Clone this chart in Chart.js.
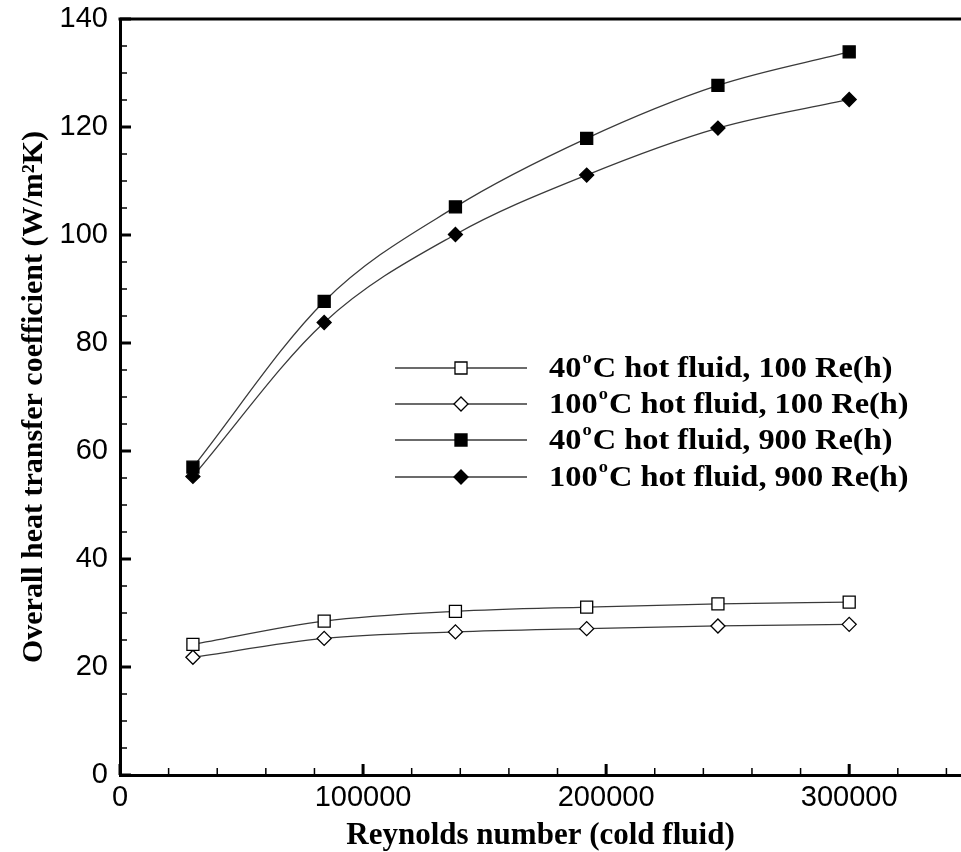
<!DOCTYPE html>
<html>
<head>
<meta charset="utf-8">
<script src="https://cdn.jsdelivr.net/npm/chart.js@4.4.0/dist/chart.umd.min.js"></script>
<style>
  html, body { margin: 0; padding: 0; background: #fff; }
  canvas { display: block; }
</style>
</head>
<body>
<canvas id="chart" width="961" height="852"></canvas>
<script>
// Reynolds number of cold fluid
const reCold = [30000, 84000, 138000, 192000, 246000, 300000];

// Overall heat transfer coefficient (W/m2K)
const hot40Re100 = [24.2, 28.5, 30.3, 31.1, 31.7, 32.0];
const hot100Re100 = [21.8, 25.3, 26.5, 27.1, 27.6, 27.9];
const hot40Re900 = [57.0, 87.7, 105.2, 117.9, 127.7, 133.9];
const hot100Re900 = [55.3, 83.8, 100.1, 111.1, 119.8, 125.1];

// legend labels: [temperature, rest]
const legendLabels = [
    ['40', 'C hot fluid, 100 Re(h)'],
    ['100', 'C hot fluid, 100 Re(h)'],
    ['40', 'C hot fluid, 900 Re(h)'],
    ['100', 'C hot fluid, 900 Re(h)']
];

const xMajor = [0, 100000, 200000, 300000];
const yMajor = [0, 20, 40, 60, 80, 100, 120, 140];

const serif = '"Liberation Serif", "Times New Roman", serif';
const sans = '"Liberation Sans", Arial, sans-serif';

function pts(ys) {
    return reCold.map((x, i) => ({ x: x, y: ys[i] }));
}

function series(ys, style, filled) {
    return {
        data: pts(ys),
        borderColor: '#3a3a3a',
        borderWidth: 1.3,
        cubicInterpolationMode: 'monotone',
        pointStyle: style,
        pointRadius: style === 'rect' ? 8.5 : 7,
        pointBorderWidth: 1.3,
        pointBorderColor: '#000',
        pointBackgroundColor: filled ? '#000' : '#fff'
    };
}

// inward tick marks, frame top line, and the legend
const decor = {
    id: 'decor',
    afterDraw(chart) {
        const ctx = chart.ctx;
        const a = chart.chartArea;
        const xs = chart.scales.x, ys = chart.scales.y;
        ctx.save();
        ctx.strokeStyle = '#000';
        ctx.lineCap = 'butt';
        // x ticks
        for (let v = 0; v <= xs.max; v += 20000) {
            const px = xs.getPixelForValue(v);
            const major = v % 100000 === 0;
            ctx.lineWidth = major ? 3 : 1.5;
            ctx.beginPath();
            ctx.moveTo(px, a.bottom);
            ctx.lineTo(px, a.bottom - (major ? 11 : 7));
            ctx.stroke();
        }
        // y ticks
        for (let v = 0; v <= ys.max; v += 5) {
            const py = ys.getPixelForValue(v);
            const major = v % 20 === 0;
            ctx.lineWidth = major ? 3 : 1.5;
            ctx.beginPath();
            ctx.moveTo(a.left, py);
            ctx.lineTo(a.left + (major ? 11 : 7), py);
            ctx.stroke();
        }
        // top frame line
        ctx.lineWidth = 3;
        ctx.beginPath();
        ctx.moveTo(a.left - 1.5, a.top);
        ctx.lineTo(a.right, a.top);
        ctx.stroke();

        // legend
        const rows = [368, 404, 440, 477];
        const x0 = 395, x1 = 527, xm = 461, tx = 549;
        chart.data.datasets.forEach((ds, i) => {
            const y = rows[i];
            ctx.strokeStyle = '#3a3a3a';
            ctx.lineWidth = 1.3;
            ctx.beginPath();
            ctx.moveTo(x0, y);
            ctx.lineTo(x1, y);
            ctx.stroke();
            ctx.fillStyle = ds.pointBackgroundColor;
            ctx.strokeStyle = '#000';
            Chart.helpers.drawPoint(ctx, {
                pointStyle: ds.pointStyle,
                radius: ds.pointRadius,
                rotation: 0,
                borderWidth: 1.3
            }, xm, y);
            // text with superscript o
            ctx.save();
            ctx.translate(tx, y);
            ctx.scale(1.08, 1);
            ctx.fillStyle = '#000';
            ctx.textBaseline = 'middle';
            ctx.textAlign = 'left';
            ctx.font = 'bold 30px ' + serif;
            const lab = legendLabels[i];
            let cx = 0;
            ctx.fillText(lab[0], cx, 1);
            cx += ctx.measureText(lab[0]).width;
            ctx.font = 'bold 17px ' + serif;
            ctx.fillText('o', cx + 1, -9);
            cx += ctx.measureText('o').width + 2;
            ctx.font = 'bold 30px ' + serif;
            ctx.fillText(lab[1], cx, 1);
            ctx.restore();
        });
        ctx.restore();
    }
};

new Chart(document.getElementById('chart'), {
    type: 'line',
    data: {
        datasets: [
            series(hot40Re100, 'rect', false),
            series(hot100Re100, 'rectRot', false),
            series(hot40Re900, 'rect', true),
            series(hot100Re900, 'rectRot', true)
        ]
    },
    options: {
        responsive: false,
        animation: false,
        layout: { autoPadding: false, padding: { left: 16, top: 19, right: 0, bottom: 0 } },
        plugins: {
            legend: { display: false },
            tooltip: { enabled: false }
        },
        scales: {
            x: {
                type: 'linear',
                min: 0,
                max: 346000,
                grid: { display: false, drawTicks: false },
                border: { display: true, color: '#000', width: 3 },
                afterBuildTicks: s => { s.ticks = xMajor.map(v => ({ value: v })); },
                afterFit: s => {
                    s.height = 77;
                    s.paddingLeft = 0; s.paddingRight = 0;
                },
                ticks: {
                    color: '#000',
                    padding: 6,
                    maxRotation: 0,
                    font: { family: sans, size: 29 },
                    callback: v => String(v)
                },
                title: {
                    display: true,
                    text: 'Reynolds number (cold fluid)',
                    color: '#000',
                    font: { family: serif, size: 31, weight: 'bold' },
                    padding: { top: 0, bottom: -3 }
                }
            },
            y: {
                min: 0,
                max: 140,
                grid: { display: false, drawTicks: false },
                border: { display: true, color: '#000', width: 3 },
                afterBuildTicks: s => { s.ticks = yMajor.map(v => ({ value: v })); },
                afterFit: s => {
                    s.width = 104;
                    s.paddingTop = 0; s.paddingBottom = 0;
                },
                ticks: {
                    color: '#000',
                    padding: 12,
                    font: { family: sans, size: 29 }
                },
                title: {
                    display: true,
                    text: 'Overall heat transfer coefficient (W/m\u00B2K)',
                    color: '#000',
                    font: { family: serif, size: 30, weight: 'bold' },
                    padding: 0
                }
            }
        }
    },
    plugins: [decor]
});
</script>
</body>
</html>
